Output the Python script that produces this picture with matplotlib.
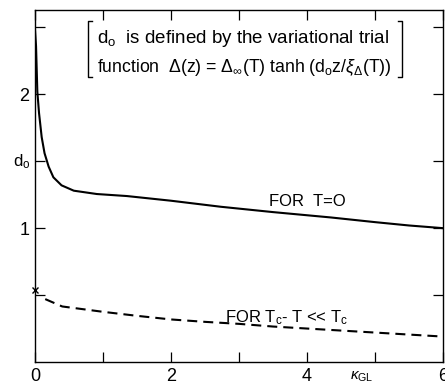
import matplotlib
matplotlib.use("Agg")
import matplotlib.pyplot as plt
from matplotlib.ticker import FixedLocator

plt.rcParams['font.family'] = ['Liberation Sans', 'DejaVu Sans']
plt.rcParams['mathtext.fontset'] = 'custom'
plt.rcParams['mathtext.rm'] = 'Liberation Sans'
plt.rcParams['mathtext.it'] = 'Liberation Sans:italic'
plt.rcParams['mathtext.fallback'] = 'stixsans'

# courbe T = 0
kappa_t0 = [0, 0.015, 0.034, 0.059, 0.098, 0.14, 0.2, 0.27, 0.39, 0.57,
            0.91, 1.35, 2.0, 2.73, 3.5, 4.35, 5.0, 5.5, 6.0]
d0_t0 = [2.48, 2.36, 2.02, 1.86, 1.68, 1.56, 1.46, 1.38, 1.32, 1.28,
         1.255, 1.24, 1.205, 1.16, 1.12, 1.08, 1.045, 1.02, 1.0]

# courbe Tc - T << Tc
kappa_tc = [0.15, 0.4, 1.0, 1.5, 2.0, 2.5, 3.0, 3.5, 4.0, 4.5, 5.0, 5.5, 6.0]
d0_tc = [0.47, 0.415, 0.375, 0.345, 0.318, 0.30, 0.285, 0.265, 0.25,
         0.235, 0.22, 0.205, 0.19]
d0_tc_start = 0.54

x_ticks = [0, 1, 2, 3, 4, 5, 6]
x_labels = ['0', '', '2', '', '4', '', '6']
y_ticks = [0.5, 1.0, 1.5, 2.0, 2.5]
y_labels = ['', '1', '', '2', '']

fig = plt.figure(figsize=(4.45, 3.92), dpi=100)
ax = fig.add_axes([0.0787, 0.0765, 0.917, 0.898])

ax.plot(kappa_t0, d0_t0, color='black', lw=1.5)
ax.plot(kappa_tc, d0_tc, color='black', lw=1.5, linestyle=(0, (4.8, 2.9)))
ax.plot([0], [d0_tc_start], marker='x', ms=4, mew=1, color='black', clip_on=False)

ax.set_xlim(0, 6)
ax.set_ylim(0, 2.63)
ax.xaxis.set_major_locator(FixedLocator(x_ticks))
ax.set_xticklabels(x_labels)
ax.yaxis.set_major_locator(FixedLocator(y_ticks))
ax.set_yticklabels(y_labels)
ax.tick_params(direction='in', length=7, width=0.9, top=True, right=True,
               labelsize=13, pad=4, colors='black')
for s in ax.spines.values():
    s.set_linewidth(1.0)

ax.text(-0.2, 1.5, r'd$_\mathrm{o}$', fontsize=12, ha='center', va='center')
ax.text(4.8, -0.11, r'$\kappa_\mathrm{GL}$', fontsize=11, ha='center', va='center')

ax.text(4.0, 1.20, 'FOR  T=O', fontsize=12, ha='center', va='center')
ax.text(2.79, 0.335, r'FOR T$_\mathrm{c}$- T << T$_\mathrm{c}$', fontsize=12,
        ha='left', va='center')

# encadré entre crochets
tr = ax.transAxes
ax.plot([0.14, 0.13, 0.13, 0.14], [0.969, 0.969, 0.810, 0.810], color='black',
        lw=1.0, transform=tr)
ax.plot([0.89, 0.90, 0.90, 0.89], [0.969, 0.969, 0.810, 0.810], color='black',
        lw=1.0, transform=tr)
ax.text(0.152, 0.920, r'd$_\mathrm{o}$  is defined by the variational trial',
        fontsize=13.5, ha='left', va='center', transform=tr)
ax.text(0.152, 0.838,
        r'function  $\Delta$(z) = $\Delta_\infty$(T) tanh (d$_\mathrm{o}$z/$\xi_\Delta$(T))',
        fontsize=12.7, ha='left', va='center', transform=tr)

fig.savefig('out.png', dpi=100)
